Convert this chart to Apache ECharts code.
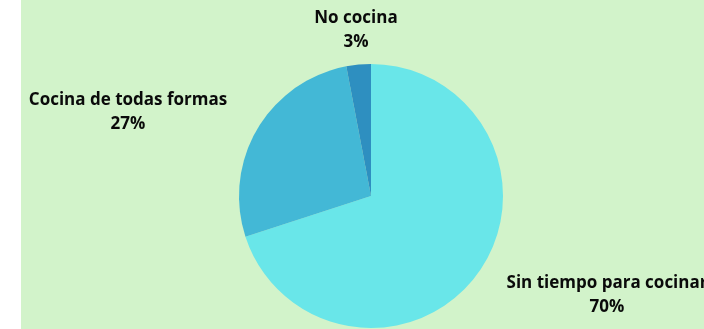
<!DOCTYPE html>
<html>
<head>
<meta charset="utf-8">
<script src="https://cdn.jsdelivr.net/npm/echarts@6/dist/echarts.min.js"></script>
<style>
html,body{margin:0;padding:0;background:#ffffff;}
#chart{width:704px;height:329px;}
</style>
</head>
<body>
<div id="chart"></div>
<script>
var categories = ['Sin tiempo para cocinar', 'Cocina de todas formas', 'No cocina'];
var values = [70, 27, 3];
var colors = ['#69e6e9', '#43b8d6', '#2e8fc0'];
var labelPos = [[607, 295], [128, 112], [356, 30]];

var chart = echarts.init(document.getElementById('chart'));
chart.setOption({
  animation: false,
  graphic: [{
    type: 'rect', z: -10, silent: true,
    shape: {x: 21, y: 0, width: 683, height: 329},
    style: {fill: '#d2f3ca'}
  }],
  series: [{
    type: 'pie',
    center: [371, 196],
    radius: 132,
    startAngle: 90,
    clockwise: true,
    data: categories.map(function (c, i) {
      return {name: c, value: values[i], itemStyle: {color: colors[i]}};
    }),
    label: {
      show: true,
      position: 'outside',
      overflow: 'none',
      edgeDistance: 0,
      formatter: function (p) { return p.name + '\n' + p.value + '%'; },
      fontFamily: 'Open Sans',
      fontWeight: 'bold',
      fontSize: 17,
      lineHeight: 24,
      color: '#0a0a0a',
      align: 'center'
    },
    labelLine: {show: false},
    labelLayout: function (p) {
      return {x: labelPos[p.dataIndex][0], y: labelPos[p.dataIndex][1], align: 'center', verticalAlign: 'middle'};
    },
    emphasis: {disabled: true}
  }]
});
</script>
</body>
</html>
